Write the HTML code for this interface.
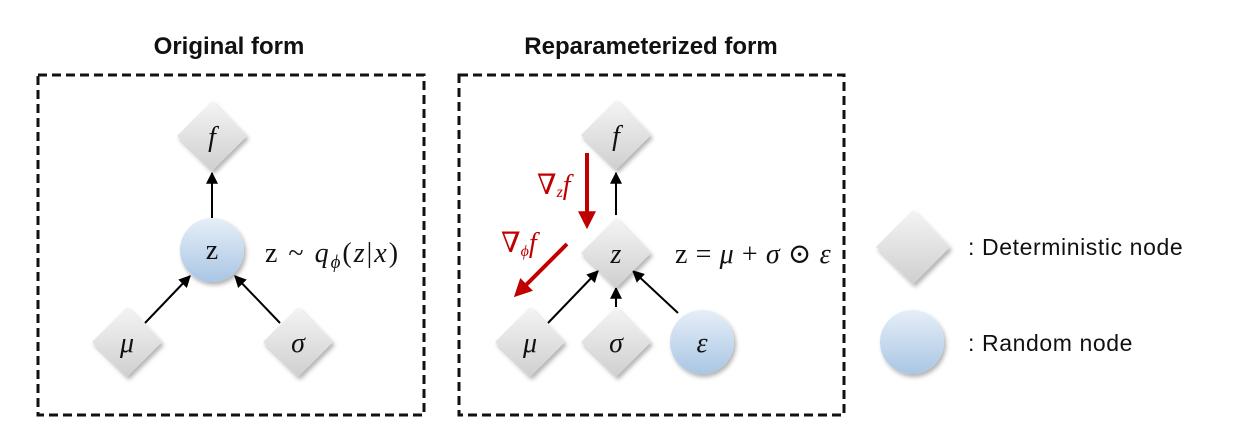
<!DOCTYPE html>
<html><head><meta charset="utf-8"><style>
html,body{margin:0;padding:0;background:#fff;}
svg{display:block;}
.m{font-family:"Liberation Serif","DejaVu Serif",serif;font-style:italic;font-size:28px;fill:#111;}
.e{font-family:"Liberation Serif","DejaVu Serif",serif;font-size:28px;fill:#111;}
.t{font-family:"Liberation Sans",sans-serif;font-weight:bold;font-size:24px;fill:#111;}
.l{font-family:"Liberation Sans",sans-serif;font-size:23px;fill:#111;}
</style></head><body>
<svg width="1238" height="436" viewBox="0 0 1238 436" xmlns="http://www.w3.org/2000/svg">
<defs>
<linearGradient id="dg" x1="0" y1="0" x2="0" y2="1"><stop offset="0" stop-color="#f4f4f4"/><stop offset="1" stop-color="#cfcfcf"/></linearGradient>
<linearGradient id="cg" x1="0" y1="0" x2="0" y2="1"><stop offset="0" stop-color="#e6eef8"/><stop offset="1" stop-color="#a9c6e4"/></linearGradient>
<filter id="sh" x="-30%" y="-30%" width="160%" height="160%"><feDropShadow dx="2" dy="3" stdDeviation="2" flood-color="#000" flood-opacity="0.3"/></filter>
<marker id="ah" viewBox="0 0 10 10" refX="9" refY="5" markerWidth="6" markerHeight="6" orient="auto"><path d="M0,0 L10,5 L0,10 z" fill="#000"/></marker>
<marker id="rh" viewBox="0 0 10 10" refX="6" refY="5" markerWidth="4.5" markerHeight="4.5" orient="auto"><path d="M0,0 L10,5 L0,10 z" fill="#c00000"/></marker>
<g id="dia"><path d="M0,-35 L35,0 L0,35 L-35,0 z" fill="url(#dg)" filter="url(#sh)"/></g>
<g id="cir"><circle r="32" fill="url(#cg)" filter="url(#sh)"/></g>
</defs>
<text class="t" x="229" y="54" text-anchor="middle">Original form</text>
<text class="t" x="651" y="54" text-anchor="middle">Reparameterized form</text>
<rect x="38" y="75" width="386" height="340" fill="none" stroke="#111" stroke-width="3" stroke-dasharray="9,5"/>
<rect x="459" y="75" width="385" height="340" fill="none" stroke="#111" stroke-width="3" stroke-dasharray="9,5"/>

<!-- left -->
<g stroke="#000" stroke-width="2" marker-end="url(#ah)">
<line x1="212" y1="219" x2="212" y2="173"/>
<line x1="145" y1="323" x2="190" y2="276"/>
<line x1="280" y1="323" x2="235" y2="276"/>
</g>
<use href="#dia" x="212" y="136"/>
<use href="#cir" x="212" y="250"/>
<use href="#dia" x="127" y="342"/>
<use href="#dia" x="298" y="342"/>
<text class="m" x="212" y="146" text-anchor="middle">f</text>
<text class="e" x="212" y="259" text-anchor="middle">z</text>
<text class="m" x="127" y="352" text-anchor="middle">μ</text>
<text class="m" x="298" y="352" text-anchor="middle">σ</text>
<text class="e" x="265" y="262" letter-spacing="2">z ~ <tspan font-style="italic">q</tspan><tspan font-style="italic" font-size="19" dy="6">ϕ</tspan><tspan dy="-6">(</tspan><tspan font-style="italic">z</tspan>|<tspan font-style="italic">x</tspan>)</text>

<!-- right -->
<g stroke="#000" stroke-width="2" marker-end="url(#ah)">
<line x1="616" y1="215" x2="616" y2="173"/>
<line x1="548" y1="323" x2="598" y2="271"/>
<line x1="616" y1="307" x2="616" y2="288"/>
<line x1="678" y1="313" x2="633" y2="271"/>
</g>
<g stroke="#c00000" stroke-width="4" marker-end="url(#rh)">
<line x1="587" y1="153" x2="587" y2="222"/>
<line x1="567" y1="244" x2="519" y2="292"/>
</g>
<use href="#dia" x="616" y="135"/>
<use href="#dia" x="616" y="253"/>
<use href="#dia" x="530" y="342"/>
<use href="#dia" x="616" y="342"/>
<use href="#cir" x="702" y="342"/>
<text class="m" x="616" y="145" text-anchor="middle">f</text>
<text class="m" x="616" y="263" text-anchor="middle">z</text>
<text class="m" x="530" y="352" text-anchor="middle">μ</text>
<text class="m" x="616" y="352" text-anchor="middle">σ</text>
<text class="m" x="702" y="352" text-anchor="middle">ε</text>
<text class="e" x="537" y="194" style="fill:#c00000" font-size="21">∇<tspan font-style="italic" font-size="16" dy="3">z</tspan><tspan font-style="italic" dy="-3">f</tspan></text>
<text class="e" x="501" y="252" style="fill:#c00000" font-size="21">∇<tspan font-style="italic" font-size="16" dy="4">ϕ</tspan><tspan font-style="italic" dy="-4">f</tspan></text>
<text class="e" x="675" y="263" letter-spacing="0.6">z = <tspan font-style="italic">μ</tspan> + <tspan font-style="italic">σ</tspan> ⊙ <tspan font-style="italic">ε</tspan></text>

<!-- legend -->
<g transform="translate(913,247) scale(1.06)"><use href="#dia"/></g>
<use href="#cir" x="912" y="342"/>
<text class="l" x="968" y="255" letter-spacing="0.6">: Deterministic node</text>
<text class="l" x="968" y="351" letter-spacing="0.6">: Random node</text>
</svg>
</body></html>
